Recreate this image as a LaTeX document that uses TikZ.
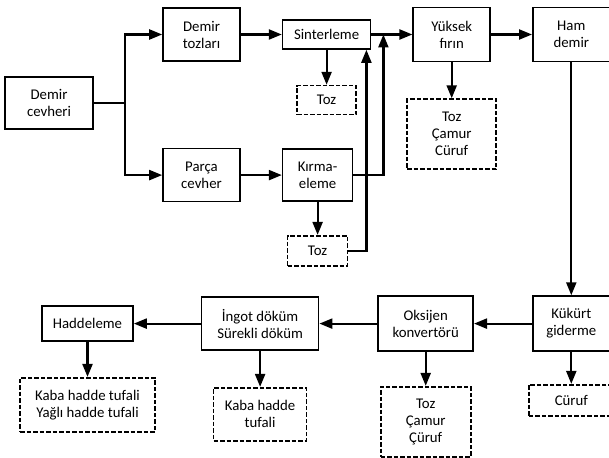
\documentclass[tikz,border=0pt]{standalone}
\usepackage{fontspec}
\setmainfont{Carlito}
\usetikzlibrary{arrows.meta, positioning}

\begin{document}
\begin{tikzpicture}[
  x=1pt, y=1pt,
  box/.style={draw, line width=1.6pt, align=center, inner sep=0pt, font=\fontsize{14.8}{17}\selectfont},
  waste/.style={box, dash pattern=on 4.5pt off 2pt},
  line/.style={line width=2.2pt},
  arrow/.style={line width=2.2pt, -{Triangle[length=13pt, width=10pt]}},
]
  \useasboundingbox (0,0) rectangle (609,-457);
  \node[box, minimum width=88, minimum height=52] (cevher) at (49,-103) {Demir\\cevheri};
  \node[box, minimum width=77, minimum height=53] (tozlari) at (201.5,-34.5) {Demir\\tozları};
  \node[box, minimum width=77, minimum height=53, below=86pt of tozlari] (parca) {Parça\\cevher};
  \node[box, minimum width=88, minimum height=29, right=41pt of tozlari] (sinter) {Sinterleme};
  \node[box, minimum width=70, minimum height=52, right=41pt of parca.east, anchor=west] (kirma) {Kırma-\\eleme};
  \node[waste, minimum width=59, minimum height=29, below=35pt of sinter] (toz1) {Toz};
  \node[waste, minimum width=60, minimum height=30, below=33pt of kirma] (toz2) {Toz};
  \node[box, minimum width=77, minimum height=54, right=41pt of sinter] (yuksek) {Yüksek\\fırın};
  \node[box, minimum width=77, minimum height=54, right=41pt of yuksek] (ham) {Ham\\demir};
  \node[waste, minimum width=89, minimum height=70, below=36pt of yuksek] (atik1) {Toz\\Çamur\\Cüruf};
  \node[box, minimum width=77, minimum height=55, below=233pt of ham] (kukurt) {Kükürt\\giderme};
  \node[box, minimum width=95, minimum height=55, left=58pt of kukurt] (oksijen) {Oksijen\\konvertörü};
  \node[box, minimum width=117, minimum height=53, left=58pt of oksijen] (ingot) {İngot döküm\\Sürekli döküm};
  \node[box, minimum width=91, minimum height=35, left=67pt of ingot] (hadde) {Haddeleme};
  \node[waste, minimum width=85, minimum height=31, below=32pt of kukurt] (curuf) {Cüruf};
  \node[waste, minimum width=90, minimum height=70, below=34pt of oksijen] (atik2) {Toz\\Çamur\\Çüruf};
  \node[waste, minimum width=93, minimum height=53, below=36pt of ingot] (atik4) {Kaba hadde\\tufali};
  \node[waste, minimum width=135, minimum height=54, below=35pt of hadde] (atik3) {Kaba hadde tufali\\Yağlı hadde tufali};
  \coordinate[right=31pt of cevher] (split);
  \coordinate[right=12pt of sinter] (merge);
  \coordinate[left=5pt of sinter.south east] (sinterin);
  \draw[line] (cevher) -- (split);
  \draw[arrow] (split) |- (tozlari);
  \draw[arrow] (split) |- (parca);
  \draw[arrow] (tozlari) -- (sinter);
  \draw[arrow] (parca) -- (kirma);
  \draw[arrow] (sinter) -- (yuksek);
  \draw[arrow] (yuksek) -- (ham);
  \draw[arrow] (kirma) -| (merge);
  \draw[arrow] (toz2) -| (sinterin);
  \draw[arrow] (sinter) -- (toz1);
  \draw[arrow] (kirma) -- (toz2);
  \draw[arrow] (yuksek) -- (atik1);
  \draw[arrow] (ham) -- (kukurt);
  \draw[arrow] (kukurt) -- (oksijen);
  \draw[arrow] (oksijen) -- (ingot);
  \draw[arrow] (ingot) -- (hadde);
  \draw[arrow] (kukurt) -- (curuf);
  \draw[arrow] (oksijen) -- (atik2);
  \draw[arrow] (ingot) -- (atik4);
  \draw[arrow] (hadde) -- (atik3);
\end{tikzpicture}
\end{document}
